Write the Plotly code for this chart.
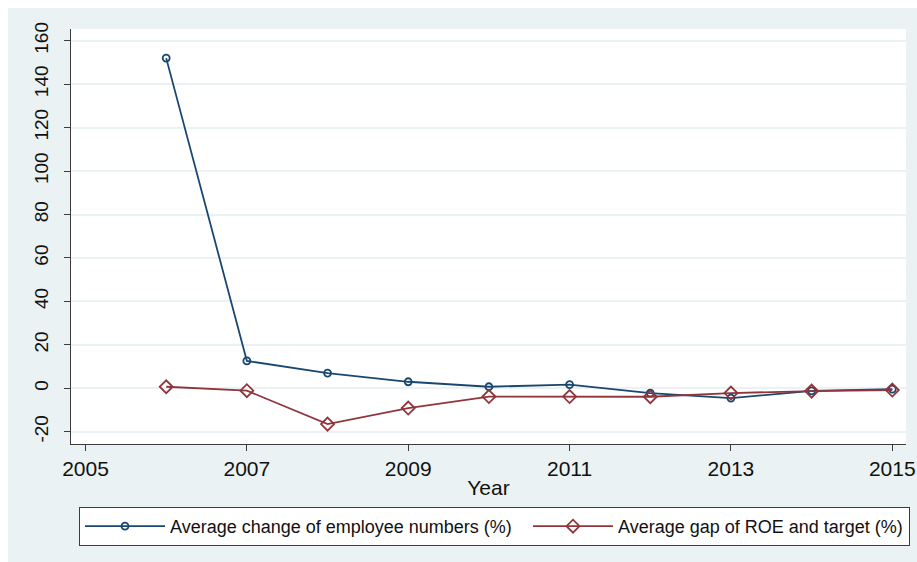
import plotly.graph_objects as go

# Yearly averages
years = [2006, 2007, 2008, 2009, 2010, 2011, 2012, 2013, 2014, 2015]
employee_change = [152.0, 12.6, 7.0, 3.0, 0.7, 1.7, -2.2, -4.5, -1.2, -0.4]
roe_gap = [0.7, -1.1, -16.5, -9.1, -3.8, -3.8, -3.9, -2.2, -1.3, -0.8]

x_ticks = [2005, 2007, 2009, 2011, 2013, 2015]
y_ticks = [-20, 0, 20, 40, 60, 80, 100, 120, 140, 160]
y_tick_text = [str(v) for v in y_ticks]  # plain hyphen for negatives

NAVY = "#1A476F"
MAROON = "#90353B"
REGION = "#EAF2F3"
AXIS = "#3C3C3C"
FONT = "Liberation Sans, Arial, sans-serif"

W, H = 917, 562
ML, MR, MT, MB = 71, 11, 29, 118
PW, PH = W - ML - MR, H - MT - MB


def px_x(p):
    return (p - ML) / PW


def px_y(p):
    return (H - MB - p) / PH


fig = go.Figure()
fig.add_trace(go.Scatter(
    x=years, y=employee_change, mode="lines+markers",
    name="Average change of employee numbers (%)",
    legendwidth=353,
    line=dict(color=NAVY, width=1.8),
    marker=dict(symbol="circle-open", size=7, color=NAVY, line=dict(width=1.8)),
))
fig.add_trace(go.Scatter(
    x=years, y=roe_gap, mode="lines+markers",
    name="Average gap of ROE and target (%)",
    legendwidth=286,
    line=dict(color=MAROON, width=1.8),
    marker=dict(symbol="diamond-open", size=10, color=MAROON, line=dict(width=1.8)),
))

# white strips framing the graph region on the top and left
fig.add_shape(type="rect", xref="paper", yref="paper", layer="below",
              x0=px_x(0), x1=px_x(W), y0=px_y(8), y1=px_y(0),
              fillcolor="white", line_width=0)
fig.add_shape(type="rect", xref="paper", yref="paper", layer="below",
              x0=px_x(0), x1=px_x(8), y0=px_y(H), y1=px_y(0),
              fillcolor="white", line_width=0)

fig.update_layout(
    width=W, height=H,
    margin=dict(l=ML, r=MR, t=MT, b=MB, autoexpand=False),
    paper_bgcolor=REGION, plot_bgcolor="white",
    font=dict(family=FONT, color="#111111"),
    showlegend=True,
    legend=dict(
        orientation="h", x=px_x(79), y=px_y(507), xanchor="left", yanchor="top",
        bgcolor="white", bordercolor=AXIS, borderwidth=1,
        font=dict(size=18, family=FONT, color="#111111"),
        itemwidth=80, entrywidthmode="pixels",
    ),
    xaxis=dict(
        range=[2004.82, 2015.17], tickvals=x_ticks,
        showgrid=False, zeroline=False,
        showline=True, linecolor=AXIS, linewidth=1,
        ticks="outside", ticklen=6, tickcolor=AXIS, tickwidth=1,
        tickfont=dict(size=21),
        title=dict(text="Year", font=dict(size=21), standoff=1),
    ),
    yaxis=dict(
        range=[-25.65, 165.4], tickvals=y_ticks, ticktext=y_tick_text,
        showgrid=True, gridcolor=REGION, gridwidth=1.5,
        zeroline=False,
        showline=True, linecolor=AXIS, linewidth=1,
        ticks="outside", ticklen=6, tickcolor=AXIS, tickwidth=1,
        tickangle=-90, tickfont=dict(size=19), ticklabelstandoff=8,
    ),
)

fig.write_html("out.html")
